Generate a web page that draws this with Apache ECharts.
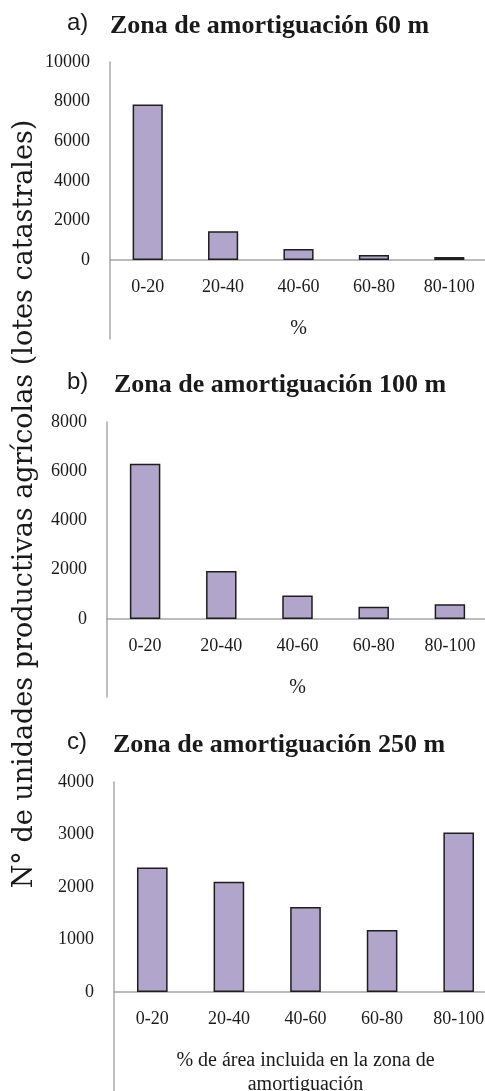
<!DOCTYPE html>
<html>
<head>
<meta charset="utf-8">
<script src="https://cdn.jsdelivr.net/npm/echarts@6/dist/echarts.min.js"></script>
<style>
  html, body { margin: 0; padding: 0; background: #fff; }
  #chart { width: 485px; height: 1091px; }
</style>
</head>
<body>
<div id="chart"></div>
<script>
const categories = ["0-20", "20-40", "40-60", "60-80", "80-100"];
const buffer60 = [7850, 1450, 550, 250, 150];
const buffer100 = [6300, 1950, 950, 500, 600];
const buffer250 = [2370, 2100, 1620, 1180, 3040];

const panelLetters = ["a)", "b)", "c)"];
const panelTitles = [
  "Zona de amortiguación 60 m",
  "Zona de amortiguación 100 m",
  "Zona de amortiguación 250 m",
];
const xNames = ["%", "%", "% de área incluida en la zona de\namortiguación"];
const yMax = [10000, 8000, 4000];
const yInterval = [2000, 2000, 1000];
const yName = "N° de unidades productivas agrícolas (lotes catastrales)";

const serif = "'Liberation Serif', 'DejaVu Serif', serif";
const textColor = "#1a1a1a";
const axisColor = "#a8a8a8";
const barColor = "#b1a5cb";
const barBorder = "#1e1e1e";

// main plot areas (bottom edge = zero line)
const plotGrids = [
  { left: 110, top: 62, width: 377, height: 198 },
  { left: 107, top: 422, width: 381, height: 197 },
  { left: 114, top: 782, width: 383, height: 210 },
];
// the vertical axis keeps going below the zero line, Excel style
const tailHeights = [79, 78, 99];
const tailGrids = plotGrids.map((g, i) => ({
  left: g.left,
  top: g.top + g.height,
  width: g.width,
  height: tailHeights[i],
}));
const titleTops = [13, 372, 732];
const titleLefts = [110, 114, 113];
const xNameGaps = [57, 57, 57];

const chart = echarts.init(document.getElementById("chart"), null, { renderer: "canvas" });

const seriesData = [buffer60, buffer100, buffer250];

const option = {
  animation: false,
  backgroundColor: "#fff",
  title: [
    ...panelLetters.map((letter, i) => ({
      text: letter,
      left: 67,
      top: titleTops[i] - 2,
      padding: 0,
      textStyle: {
        fontFamily: "'Liberation Sans', sans-serif",
        fontWeight: "normal",
        fontSize: 24,
        color: textColor,
      },
    })),
    ...panelTitles.map((t, i) => ({
      text: t,
      left: titleLefts[i],
      top: titleTops[i],
      padding: 0,
      textStyle: {
        fontFamily: serif,
        fontWeight: "bold",
        fontSize: 26,
        color: textColor,
      },
    })),
  ],
  grid: [...plotGrids, ...tailGrids].map((g) => ({
    ...g,
    containLabel: false,
    outerBoundsMode: "none",
  })),
  xAxis: [
    ...plotGrids.map((g, i) => ({
      type: "category",
      gridIndex: i,
      data: categories,
      axisLine: { lineStyle: { color: axisColor, width: 1.5 } },
      axisTick: { show: false },
      axisLabel: { margin: 18, fontSize: 18, fontFamily: serif, color: textColor },
      name: xNames[i],
      nameLocation: "middle",
      nameGap: xNameGaps[i],
      nameTextStyle: { fontSize: 20, fontFamily: serif, color: textColor, lineHeight: 24 },
      splitLine: { show: false },
    })),
    ...tailGrids.map((g, i) => ({
      type: "value",
      gridIndex: 3 + i,
      min: 0,
      max: 1,
      show: false,
    })),
  ],
  yAxis: [
    ...plotGrids.map((g, i) => ({
      type: "value",
      gridIndex: i,
      min: 0,
      max: yMax[i],
      interval: yInterval[i],
      axisLine: { show: true, lineStyle: { color: axisColor, width: 1.5 } },
      axisTick: { show: false },
      splitLine: { show: false },
      axisLabel: {
        margin: 20,
        fontSize: 18,
        fontFamily: serif,
        color: textColor,
        formatter: (v) => String(v),
      },
    })),
    ...tailGrids.map((g, i) => ({
      type: "value",
      gridIndex: 3 + i,
      min: 0,
      max: 1,
      axisLine: { show: true, onZero: false, lineStyle: { color: axisColor, width: 1.5 } },
      axisTick: { show: false },
      axisLabel: { show: false },
      splitLine: { show: false },
    })),
  ],
  series: seriesData.map((data, i) => ({
    type: "bar",
    xAxisIndex: i,
    yAxisIndex: i,
    data: data,
    barWidth: "40%",
    itemStyle: { color: barColor, borderColor: barBorder, borderWidth: 1.5 },
  })),
  graphic: [
    {
      type: "text",
      x: 25,
      y: 504,
      rotation: Math.PI / 2,
      style: {
        text: yName,
        fontFamily: "'DejaVu Serif', serif",
        fontSize: 27,
        fill: textColor,
        align: "center",
        verticalAlign: "middle",
      },
    },
  ],
};

chart.setOption(option);
</script>
</body>
</html>
